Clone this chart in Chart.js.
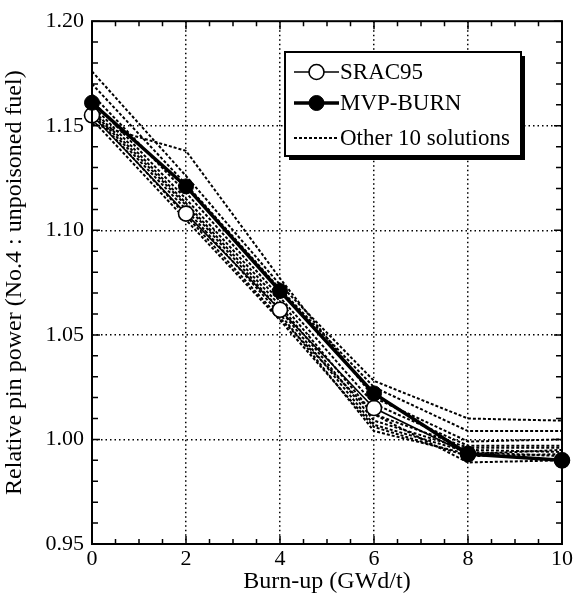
<!DOCTYPE html>
<html>
<head>
<meta charset="utf-8">
<script src="https://cdn.jsdelivr.net/npm/chart.js@4/dist/chart.umd.min.js"></script>
<style>
  html, body { margin: 0; padding: 0; background: #fff; }
  #wrap { width: 575px; height: 596px; position: relative; }
</style>
</head>
<body>
<div id="wrap"><canvas id="c" width="575" height="596"></canvas></div>
<script>
// Burn-up steps (GWd/t)
const burnup = [0, 2, 4, 6, 8, 10];

// Relative pin power of pin No.4 (unpoisoned fuel)
const srac95  = [1.155, 1.108, 1.062, 1.015, 0.993, 0.990];
const mvpBurn = [1.161, 1.121, 1.071, 1.022, 0.993, 0.990];

// The remaining ten benchmark solutions
const otherSolutions = [
  [1.176, 1.126, 1.074, 1.028, 1.010, 1.009],
  [1.170, 1.122, 1.072, 1.025, 1.004, 1.004],
  [1.151, 1.138, 1.077, 1.020, 0.999, 1.000],
  [1.165, 1.118, 1.068, 1.017, 0.997, 0.997],
  [1.162, 1.115, 1.066, 1.012, 0.996, 0.996],
  [1.160, 1.113, 1.064, 1.009, 0.995, 0.994],
  [1.158, 1.112, 1.062, 1.007, 0.994, 0.992],
  [1.157, 1.110, 1.060, 1.004, 0.993, 0.995],
  [1.156, 1.107, 1.058, 1.012, 0.989, 0.990],
  [1.153, 1.105, 1.057, 1.006, 0.992, 0.993]
];

const xTickLabels = ['0', '2', '4', '6', '8', '10'];
const yTickLabels = ['0.95', '1.00', '1.05', '1.10', '1.15', '1.20'];

const SERIF = '"Liberation Serif", "Times New Roman", serif';
const toPoints = arr => arr.map((v, i) => ({ x: burnup[i], y: v }));

// Lower "order" is painted on top: MVP-BURN over SRAC95 over the others
const datasets = [];
otherSolutions.forEach(s => {
  datasets.push({
    label: 'Other 10 solutions',
    data: toPoints(s),
    borderColor: '#000',
    borderWidth: 2,
    borderDash: [3, 2],
    pointRadius: 0,
    fill: false,
    tension: 0,
    clip: false,
    order: 2
  });
});
datasets.push({
  label: 'SRAC95',
  data: toPoints(srac95),
  borderColor: '#000',
  borderWidth: 1.6,
  pointRadius: 7.5,
  pointBackgroundColor: '#fff',
  pointBorderColor: '#000',
  pointBorderWidth: 1.6,
  fill: false,
  tension: 0,
  clip: false,
  order: 1
});
datasets.push({
  label: 'MVP-BURN',
  data: toPoints(mvpBurn),
  borderColor: '#000',
  borderWidth: 3.5,
  pointRadius: 7.5,
  pointBackgroundColor: '#000',
  pointBorderColor: '#000',
  pointBorderWidth: 1,
  fill: false,
  tension: 0,
  clip: false,
  order: 0
});

const isMajorY = v => Math.abs(v * 20 - Math.round(v * 20)) < 1e-6;
const isMajorX = v => Math.abs(v / 2 - Math.round(v / 2)) < 1e-6;

// Frame with inward ticks on all four sides, plus the boxed legend
const framePlugin = {
  id: 'frame',
  afterDatasetsDraw(chart) {
    const { ctx, chartArea: a, scales: { x, y } } = chart;
    ctx.save();
    ctx.strokeStyle = '#000';
    ctx.lineWidth = 2;
    ctx.setLineDash([]);
    ctx.strokeRect(a.left, a.top, a.right - a.left, a.bottom - a.top);
    ctx.lineWidth = 1.5;
    ctx.beginPath();
    for (let v = 0; v <= 10.0001; v += 0.5) {
      const px = x.getPixelForValue(v);
      const len = isMajorX(v) ? 8 : 5;
      ctx.moveTo(px, a.bottom); ctx.lineTo(px, a.bottom - len);
      ctx.moveTo(px, a.top); ctx.lineTo(px, a.top + len);
    }
    for (let k = 0; k <= 25; k++) {
      const v = 0.95 + k * 0.01;
      const py = y.getPixelForValue(v);
      const len = k % 5 === 0 ? 8 : 6;
      ctx.moveTo(a.left, py); ctx.lineTo(a.left + len, py);
      ctx.moveTo(a.right, py); ctx.lineTo(a.right - len, py);
    }
    ctx.stroke();
    ctx.restore();
  },
  afterDraw(chart) {
    const { ctx } = chart;
    const bx = 285, by = 52, bw = 236, bh = 104;
    ctx.save();
    // shadow
    ctx.fillStyle = '#000';
    ctx.fillRect(bx + 4, by + 4, bw, bh);
    ctx.fillStyle = '#fff';
    ctx.fillRect(bx, by, bw, bh);
    ctx.strokeStyle = '#000';
    ctx.lineWidth = 2;
    ctx.strokeRect(bx, by, bw, bh);

    const entries = [
      { ds: chart.data.datasets[10], y: by + 20 },
      { ds: chart.data.datasets[11], y: by + 51 },
      { ds: chart.data.datasets[0], y: by + 86 }
    ];
    const x0 = bx + 9, x1 = bx + 54;
    ctx.font = '23px ' + SERIF;
    ctx.textBaseline = 'middle';
    ctx.textAlign = 'left';
    entries.forEach(e => {
      const d = e.ds;
      ctx.strokeStyle = '#000';
      ctx.lineWidth = d.borderWidth;
      ctx.setLineDash(d.borderDash || []);
      ctx.beginPath();
      ctx.moveTo(x0, e.y); ctx.lineTo(x1, e.y);
      ctx.stroke();
      ctx.setLineDash([]);
      if (d.pointRadius > 0) {
        ctx.beginPath();
        ctx.arc((x0 + x1) / 2, e.y, d.pointRadius, 0, Math.PI * 2);
        ctx.fillStyle = d.pointBackgroundColor;
        ctx.fill();
        ctx.lineWidth = d.pointBorderWidth;
        ctx.stroke();
      }
      ctx.fillStyle = '#000';
      ctx.fillText(d.label, x1 + 1, e.y + 1);
    });
    ctx.restore();
  }
};

new Chart(document.getElementById('c'), {
  type: 'line',
  data: { datasets },
  plugins: [framePlugin],
  options: {
    responsive: false,
    animation: false,
    devicePixelRatio: 1,
    layout: { padding: { top: 18, right: 11, left: 0, bottom: 0 } },
    plugins: { legend: { display: false }, tooltip: { enabled: false } },
    scales: {
      x: {
        type: 'linear',
        min: 0, max: 10,
        afterFit(s) { s.height = 52; },
        ticks: {
          stepSize: 0.5,
          autoSkip: false,
          maxRotation: 0,
          padding: 2,
          color: '#000',
          font: { family: SERIF, size: 22 },
          callback: v => isMajorX(v) ? xTickLabels[Math.round(v / 2)] : ''
        },
        grid: {
          drawTicks: false,
          lineWidth: 1.5,
          color: c => (c.tick && isMajorX(c.tick.value) && c.tick.value > 0 && c.tick.value < 10) ? '#000' : 'rgba(0,0,0,0)'
        },
        border: { display: false, dash: [1.5, 3] },
        title: {
          display: true,
          text: 'Burn-up (GWd/t)',
          color: '#000',
          font: { family: SERIF, size: 24 },
          padding: { top: 0, bottom: 0 }
        }
      },
      y: {
        type: 'linear',
        min: 0.95, max: 1.20,
        afterFit(s) { s.width = 92; },
        ticks: {
          stepSize: 0.01,
          autoSkip: false,
          padding: 8,
          color: '#000',
          font: { family: SERIF, size: 22 },
          callback: v => isMajorY(v) ? yTickLabels[Math.round((v - 0.95) * 20)] : ''
        },
        grid: {
          drawTicks: false,
          lineWidth: 1.5,
          color: c => (c.tick && isMajorY(c.tick.value) && c.tick.value > 0.951 && c.tick.value < 1.199) ? '#000' : 'rgba(0,0,0,0)'
        },
        border: { display: false, dash: [1.5, 3] },
        title: {
          display: true,
          text: 'Relative pin power (No.4 : unpoisoned fuel)',
          color: '#000',
          font: { family: SERIF, size: 24 },
          padding: { top: 0, bottom: 2 }
        }
      }
    }
  }
});
</script>
</body>
</html>
